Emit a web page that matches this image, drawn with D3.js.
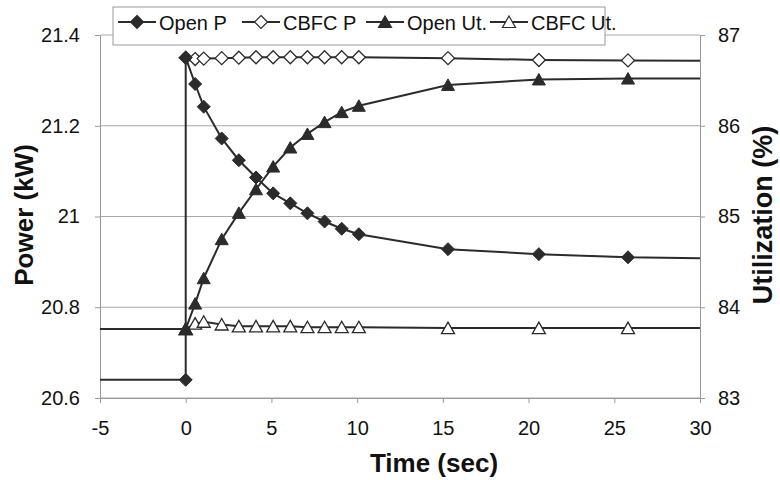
<!DOCTYPE html>
<html lang="en">
<head>
  <meta charset="UTF-8">
  <script src="https://d3js.org/d3.v7.min.js"></script>
  <style>
    body { margin: 0; background: #fff; }
    svg { display: block; font-family: "Liberation Sans", Arial, sans-serif; }
    .tick text { font-size: 20px; fill: #111; }
    .grid line { stroke: #a8a8a8; stroke-width: 1px; }
    .axis path, .axis line { stroke: #999; }
    .series { fill: none; stroke: #2b2b2b; stroke-width: 2px; }
    .title { font-weight: bold; font-size: 26px; fill: #111; }
  </style>
</head>
<body>
<div id="chart"></div>
<script>
  // sample times (sec) where markers are drawn
  const times = [0, 0.55, 1.05, 2.1, 3.1, 4.1, 5.1, 6.1, 7.1, 8.1, 9.1, 10.1, 15.3, 20.6, 25.8];

  // power (kW), left axis
  const openP = [21.35, 21.292, 21.242, 21.172, 21.124, 21.086, 21.051, 21.029, 21.007, 20.989, 20.973, 20.961, 20.928, 20.917, 20.910];
  const cbfcP = [21.35, 21.347, 21.348, 21.349, 21.35, 21.351, 21.351, 21.351, 21.351, 21.351, 21.351, 21.351, 21.349, 21.345, 21.344];

  // utilization (%), right axis
  const openUt = [83.76, 84.04, 84.32, 84.75, 85.04, 85.30, 85.55, 85.76, 85.91, 86.04, 86.15, 86.22, 86.45, 86.51, 86.52];
  const cbfcUt = [83.76, 83.82, 83.84, 83.81, 83.79, 83.79, 83.79, 83.79, 83.78, 83.78, 83.78, 83.78, 83.77, 83.77, 83.77];

  // level before the step (t < 0) and level at the end of the window
  const openPBefore = 20.64, openPEnd = 20.908;
  const cbfcPEnd = 21.343;
  const openUtBefore = 83.76, openUtEnd = 86.52;
  const cbfcUtBefore = 83.76, cbfcUtEnd = 83.77;

  const xTicks = [-5, 0, 5, 10, 15, 20, 25, 30];
  const powerTicks = [20.6, 20.8, 21, 21.2, 21.4];
  const utilTicks = [83, 84, 85, 86, 87];
  const legendNames = ["Open P", "CBFC P", "Open Ut.", "CBFC Ut."];

  const width = 780, height = 480;
  const plotL = 100, plotR = 700, plotT = 35, plotB = 398;

  const svg = d3.select("#chart").append("svg")
    .attr("width", width)
    .attr("height", height)
    .style("background", "#fff");

  const x = d3.scaleLinear().domain([-5, 30]).range([plotL, plotR]);
  const yP = d3.scaleLinear().domain([20.6, 21.4]).range([plotB, plotT]);
  const yU = d3.scaleLinear().domain([83, 87]).range([plotB, plotT]);

  // horizontal grid
  svg.append("g").attr("class", "grid")
    .selectAll("line").data(powerTicks).enter().append("line")
    .attr("x1", plotL).attr("x2", plotR)
    .attr("y1", d => yP(d)).attr("y2", d => yP(d));

  // axes (plain hyphen for negatives, no trailing zeros)
  const plain = d => String(d);

  svg.append("g").attr("class", "axis")
    .attr("transform", `translate(0,${plotB})`)
    .call(d3.axisBottom(x).tickValues(xTicks).tickFormat(plain).tickSize(5).tickPadding(18).tickSizeOuter(0));

  svg.append("g").attr("class", "axis")
    .attr("transform", `translate(${plotL},0)`)
    .call(d3.axisLeft(yP).tickValues(powerTicks).tickFormat(plain).tickSize(5).tickPadding(15).tickSizeOuter(0));

  svg.append("g").attr("class", "axis")
    .attr("transform", `translate(${plotR},0)`)
    .call(d3.axisRight(yU).tickValues(utilTicks).tickFormat(plain).tickSize(5).tickPadding(13).tickSizeOuter(0));

  // marker shapes
  const diamond = "M0,-6.5L6.5,0L0,6.5L-6.5,0Z";
  const triangle = "M0,-6L6.5,5.5L-6.5,5.5Z";

  function series(values, y, before, end, shape, filled) {
    const pts = [];
    if (before != null) {
      pts.push([-5, before]);
      pts.push([0, before]);
    }
    times.forEach((t, i) => pts.push([t, values[i]]));
    pts.push([30, end]);

    const line = d3.line().x(d => x(d[0])).y(d => y(d[1]));
    svg.append("path").attr("class", "series").attr("d", line(pts));

    const marks = times.map((t, i) => [t, values[i]]);
    if (before != null) marks.unshift([0, before]);

    svg.append("g").selectAll("path").data(marks).enter().append("path")
      .attr("d", shape)
      .attr("transform", d => `translate(${x(d[0])},${y(d[1])})`)
      .attr("fill", filled ? "#2b2b2b" : "#fff")
      .attr("stroke", "#2b2b2b")
      .attr("stroke-width", filled ? 1 : 1.3);
  }

  series(cbfcUt, yU, cbfcUtBefore, cbfcUtEnd, triangle, false);
  series(openUt, yU, openUtBefore, openUtEnd, triangle, true);
  series(cbfcP, yP, null, cbfcPEnd, diamond, false);
  series(openP, yP, openPBefore, openPEnd, diamond, true);

  // legend
  const legend = svg.append("g");
  legend.append("rect")
    .attr("x", 113).attr("y", 7).attr("width", 492).attr("height", 38)
    .attr("fill", "#fff").attr("stroke", "#999");

  const legendX = [118, 242, 366, 490];
  const legendShapes = [diamond, diamond, triangle, triangle];
  const legendFilled = [true, false, true, false];
  legendNames.forEach((name, i) => {
    const g = legend.append("g").attr("transform", `translate(${legendX[i]},22)`);
    g.append("line").attr("x1", 0).attr("x2", 38).attr("y1", 0).attr("y2", 0)
      .attr("stroke", "#2b2b2b").attr("stroke-width", 2);
    g.append("path").attr("d", legendShapes[i])
      .attr("transform", "translate(19,0)")
      .attr("fill", legendFilled[i] ? "#2b2b2b" : "#fff")
      .attr("stroke", "#2b2b2b").attr("stroke-width", 1.2);
    g.append("text").attr("x", 41).attr("y", 8)
      .style("font-size", "20px").attr("fill", "#111")
      .text(name);
  });

  // axis titles
  svg.append("text").attr("class", "title")
    .attr("text-anchor", "middle")
    .attr("x", 434).attr("y", 472)
    .text("Time (sec)");

  svg.append("text").attr("class", "title")
    .attr("text-anchor", "middle")
    .attr("transform", "translate(33,215) rotate(-90)")
    .text("Power (kW)");

  svg.append("text").attr("class", "title")
    .attr("text-anchor", "middle")
    .style("font-size", "27px")
    .attr("transform", "translate(772,215) rotate(-90)")
    .text("Utilization (%)");
</script>
</body>
</html>
